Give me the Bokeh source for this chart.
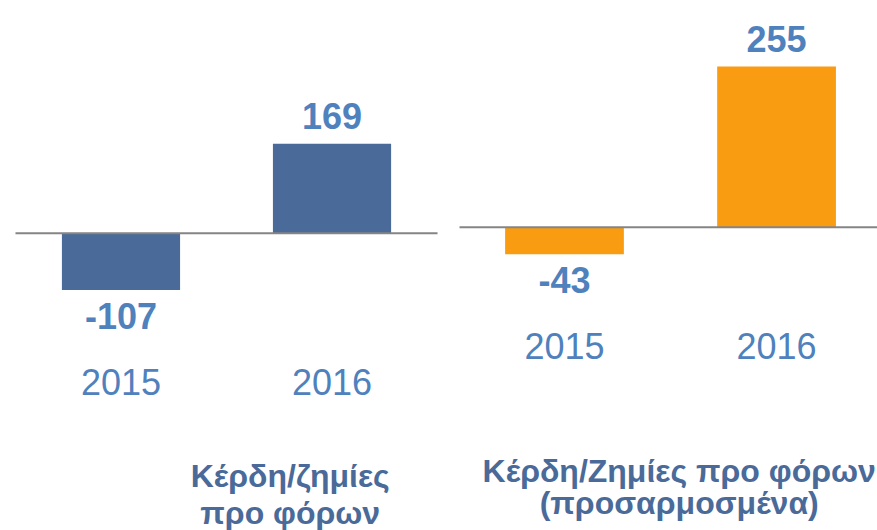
from bokeh.plotting import figure
from bokeh.layouts import row
from bokeh.models import Range1d, ColumnDataSource
from bokeh.core.properties import value
from bokeh.embed import file_html
from bokeh.resources import INLINE

# ---- data ----
years = ["2015", "2016"]
pretax = [-107, 169]
pretax_adjusted = [-43, 255]
title_left = ["Κέρδη/ζημίες", "προ φόρων"]
title_right = ["Κέρδη/Ζημίες προ φόρων", "(προσαρμοσμένα)"]

FONT = "Liberation Sans"
LABEL_BLUE = "#4F81BD"
TITLE_BLUE = "#4A6A99"
BAR_BLUE = "#4A6A99"
BAR_ORANGE = "#F99C12"
H = 530
SHIFT = -14  # text baseline correction


def panel(width, x_start, x_end, base_px, px_per_unit, vals, color,
          base_x0, base_x1, year_offset, titles, title_offsets, title_x):
    y_end = base_px / px_per_unit
    y_start = -(H - base_px) / px_per_unit
    p = figure(width=width, height=H, output_backend="svg", toolbar_location=None,
               x_range=Range1d(x_start, x_end), y_range=Range1d(y_start, y_end),
               min_border=0, outline_line_color=None)
    p.axis.visible = False
    p.grid.visible = False
    p.background_fill_color = "white"
    p.border_fill_color = "white"

    xs = list(range(len(years)))
    src = ColumnDataSource(dict(x=xs, top=vals, year=years,
                                label=[str(v) for v in vals],
                                off=[(-14 if v >= 0 else 40) + SHIFT for v in vals]))
    p.vbar(x="x", top="top", bottom=0, width=0.56, source=src,
           fill_color=color, line_color=None)
    p.segment(x0=[base_x0], y0=[0], x1=[base_x1], y1=[0],
              line_color="#858585", line_width=2)
    p.text(x="x", y="top", text="label", source=src, y_offset="off",
           text_align="center", text_baseline="alphabetic",
           text_font=value(FONT), text_font_style="bold",
           text_font_size="36px", text_color=LABEL_BLUE)
    p.text(x="x", y=0, text="year", source=src, y_offset=year_offset + SHIFT,
           text_align="center", text_baseline="alphabetic",
           text_font=value(FONT), text_font_size="36px", text_color=LABEL_BLUE)
    for line, off in zip(titles, title_offsets):
        p.text(x=[title_x], y=[0], text=[line], y_offset=off + SHIFT,
               text_align="center", text_baseline="alphabetic",
               text_font=value(FONT), text_font_style="bold",
               text_font_size="32px", text_color=TITLE_BLUE)
    return p


p1 = panel(448, -0.571, 1.552, 232.7, 0.53, pretax, BAR_BLUE, -0.5, 1.5,
           163, title_left, [257, 294], 0.802)
p2 = panel(429, -0.547, 1.476, 226.7, 0.63, pretax_adjusted, BAR_ORANGE, -0.495, 1.6,
           133, title_right, [258, 290], 0.541)

layout = row(p1, p2, spacing=0)

open("out.html", "w").write(file_html(layout, INLINE))
